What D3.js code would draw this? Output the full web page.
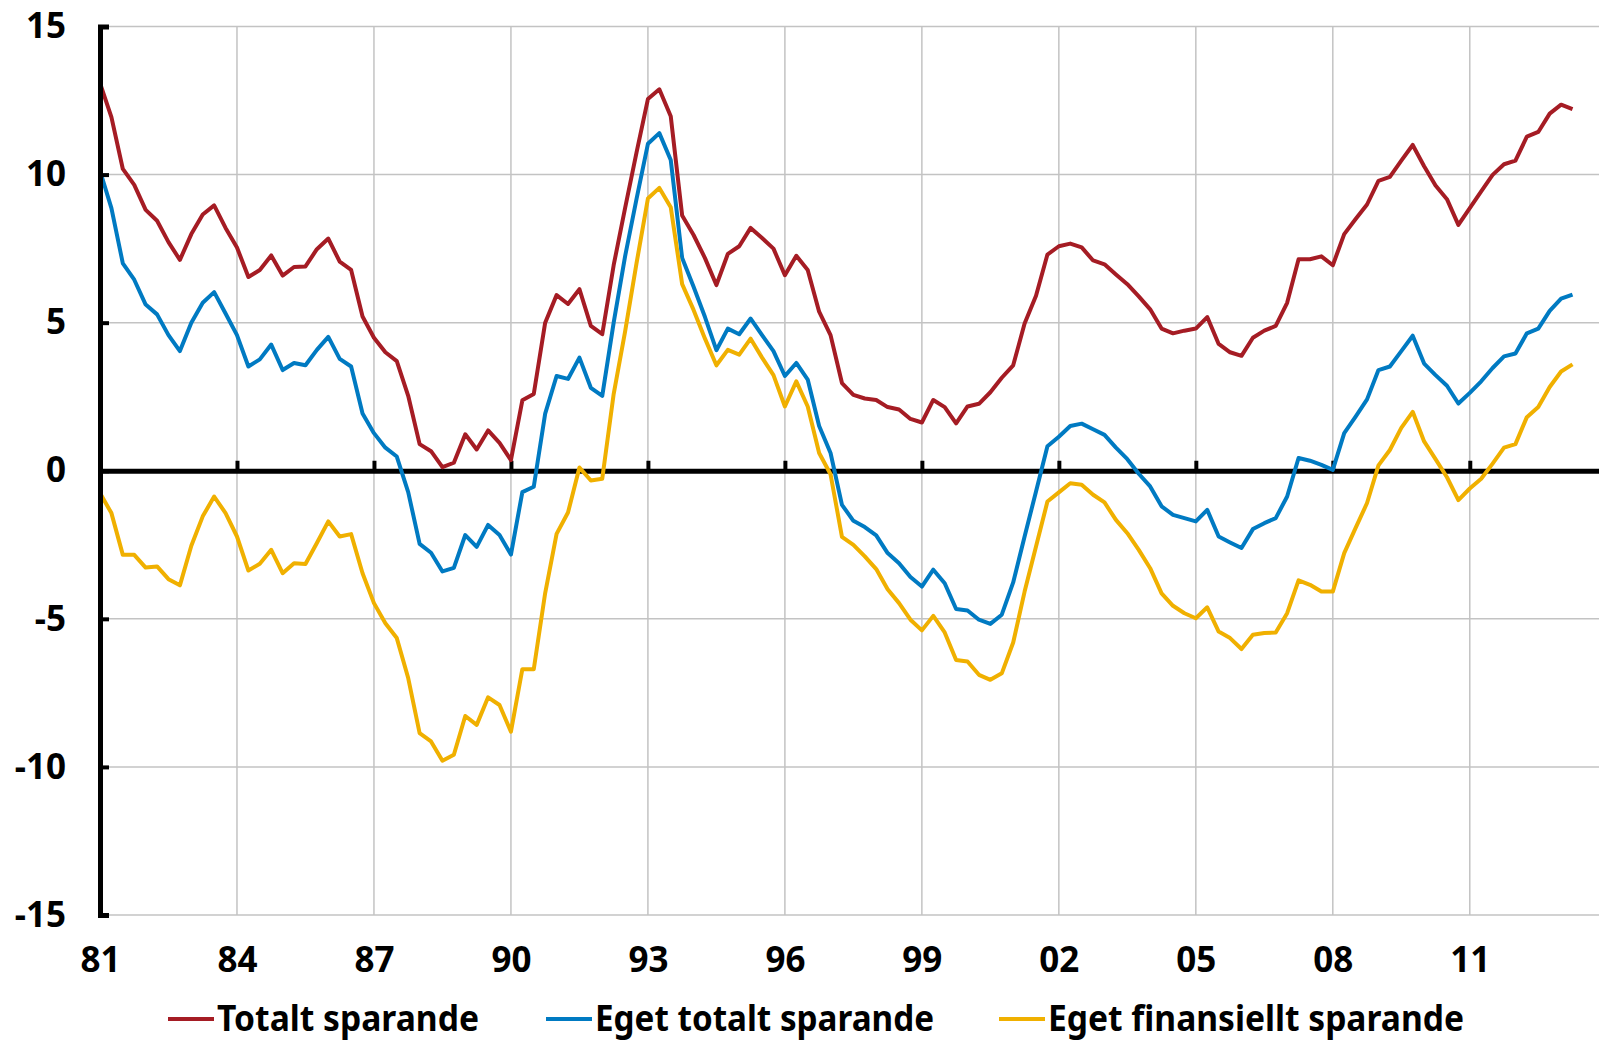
<!DOCTYPE html>
<html lang="sv">
	<head>
		<meta charset="utf-8">
		<title>Sparande</title>
		<script type="text/javascript" src="https://d3js.org/d3.v7.min.js"></script>
		<style type="text/css">
			body { margin: 0; background: #fff; }
			text { font-family: "Noto Sans", "Open Sans", sans-serif; font-weight: 700; fill: #000; }
		</style>
	</head>
	<body>
		<script type="text/javascript">

			//Quarterly data, 1981 Q1 - 2013 Q2
			var startYear = 1981;
			var totalt = [
				13.09, 11.94, 10.19, 9.65, 8.81, 8.44, 7.72, 7.12, 7.99, 8.65, 8.96, 8.20, 7.54, 6.54, 6.78, 7.27, 6.59, 6.88, 6.90, 7.48, 7.84, 7.06, 6.78,
				5.21, 4.49, 4.00, 3.70, 2.53, 0.90, 0.66, 0.12, 0.27, 1.23, 0.72, 1.36, 0.94, 0.36, 2.38, 2.59, 5.00, 5.93, 5.63, 6.13, 4.89, 4.61,
				6.94, 8.87, 10.74, 12.55, 12.88, 11.97, 8.62, 7.96, 7.18, 6.27, 7.32, 7.58, 8.20, 7.86, 7.50, 6.60, 7.26, 6.78, 5.37, 4.58, 2.96, 2.56,
				2.44, 2.39, 2.15, 2.07, 1.75, 1.63, 2.39, 2.15, 1.60, 2.17, 2.26, 2.65, 3.14, 3.56, 4.97, 5.91, 7.30, 7.58, 7.67, 7.54, 7.10, 6.97,
				6.63, 6.30, 5.89, 5.45, 4.80, 4.64, 4.73, 4.80, 5.19, 4.28, 4.00, 3.88, 4.49, 4.73, 4.89, 5.67, 7.14, 7.14, 7.24, 6.94,
				7.99, 8.50, 8.99, 9.79, 9.92, 10.47, 11.00, 10.28, 9.63, 9.17, 8.30, 8.87, 9.43, 9.99, 10.35, 10.47, 11.28, 11.44, 12.06, 12.36, 12.21
			];
			var egetTotalt = [
				10.13, 8.87, 7.00, 6.45, 5.61, 5.28, 4.58, 4.04, 5.00, 5.67, 6.03, 5.31, 4.58, 3.52, 3.76, 4.26, 3.40, 3.64, 3.56, 4.08, 4.52, 3.78, 3.52,
				1.93, 1.27, 0.78, 0.48, -0.72, -2.47, -2.77, -3.40, -3.28, -2.17, -2.57, -1.83, -2.17, -2.83, -0.72, -0.54, 1.93, 3.20, 3.10, 3.82, 2.80, 2.53,
				5.00, 7.24, 9.17, 11.04, 11.40, 10.49, 7.18, 6.21, 5.19, 4.07, 4.80, 4.61, 5.14, 4.58, 4.04, 3.20, 3.64, 3.08, 1.51, 0.60, -1.15, -1.69,
				-1.90, -2.18, -2.78, -3.12, -3.59, -3.91, -3.34, -3.80, -4.67, -4.72, -5.03, -5.17, -4.86, -3.77, -2.22, -0.70, 0.83, 1.15, 1.51, 1.59, 1.40, 1.21,
				0.78, 0.39, -0.10, -0.53, -1.20, -1.49, -1.60, -1.71, -1.32, -2.22, -2.42, -2.61, -1.97, -1.77, -1.60, -0.87, 0.43, 0.34, 0.20, 0.03,
				1.27, 1.83, 2.41, 3.40, 3.52, 4.04, 4.56, 3.62, 3.23, 2.87, 2.27, 2.63, 3.02, 3.47, 3.86, 3.96, 4.64, 4.80, 5.40, 5.81, 5.95
			];
			var egetFinansiellt = [
				-0.75, -1.43, -2.84, -2.84, -3.27, -3.23, -3.66, -3.87, -2.53, -1.54, -0.87, -1.43, -2.22, -3.37, -3.14, -2.67, -3.46, -3.12, -3.15, -2.44, -1.71, -2.22, -2.14,
				-3.46, -4.47, -5.15, -5.65, -7.00, -8.86, -9.14, -9.79, -9.59, -8.28, -8.58, -7.65, -7.91, -8.81, -6.70, -6.70, -4.13, -2.13, -1.41, 0.11, -0.33, -0.27,
				2.59, 4.70, 7.00, 9.19, 9.55, 8.90, 6.30, 5.43, 4.46, 3.56, 4.08, 3.92, 4.46, 3.82, 3.23, 2.17, 3.02, 2.17, 0.60, -0.12, -2.23, -2.50,
				-2.89, -3.32, -4.00, -4.47, -5.03, -5.39, -4.90, -5.46, -6.39, -6.44, -6.89, -7.06, -6.84, -5.80, -4.08, -2.56, -1.04, -0.73, -0.42, -0.47, -0.81, -1.07,
				-1.66, -2.11, -2.67, -3.29, -4.14, -4.56, -4.81, -4.98, -4.61, -5.43, -5.65, -6.02, -5.54, -5.48, -5.46, -4.81, -3.70, -3.85, -4.08, -4.08,
				-2.78, -1.93, -1.09, 0.18, 0.70, 1.45, 1.99, 0.99, 0.39, -0.22, -0.99, -0.60, -0.27, 0.24, 0.78, 0.90, 1.81, 2.15, 2.83, 3.35, 3.59
			];

			var seriesNames = ["Totalt sparande", "Eget totalt sparande", "Eget finansiellt sparande"];
			var seriesColors = ["#a51c24", "#007ac2", "#f0b000"];
			var xTickYears = [1981, 1984, 1987, 1990, 1993, 1996, 1999, 2002, 2005, 2008, 2011];
			var xTickLabels = ["81", "84", "87", "90", "93", "96", "99", "02", "05", "08", "11"];
			var yTicks = [-15, -10, -5, 0, 5, 10, 15];

			//Width and height
			var w = 1599;
			var h = 1040;
			var plotLeft = 100, plotRight = 1599, plotTop = 26.5, plotBottom = 915;

			//Create scale functions
			var xScale = d3.scaleLinear()
							.domain([1981, 2013.83])
							.range([plotLeft, plotRight]);

			var yScale = d3.scaleLinear()
							.domain([-15, 15])
							.range([plotBottom, plotTop]);

			//Create SVG element
			var svg = d3.select("body")
						.append("svg")
						.attr("width", w)
						.attr("height", h);

			svg.append("rect")
				.attr("width", w)
				.attr("height", h)
				.attr("fill", "#fff");

			//Gridlines
			svg.append("g")
				.selectAll("line")
				.data(yTicks.filter(function(d) { return d !== 0; }))
				.enter()
				.append("line")
				.attr("x1", plotLeft)
				.attr("x2", plotRight)
				.attr("y1", function(d) { return yScale(d); })
				.attr("y2", function(d) { return yScale(d); })
				.attr("stroke", "#c3c3c3")
				.attr("stroke-width", 1.5);

			svg.append("g")
				.selectAll("line")
				.data(xTickYears.slice(1))
				.enter()
				.append("line")
				.attr("x1", function(d) { return xScale(d); })
				.attr("x2", function(d) { return xScale(d); })
				.attr("y1", plotTop)
				.attr("y2", plotBottom)
				.attr("stroke", "#c3c3c3")
				.attr("stroke-width", 1.5);

			//Zero axis with ticks pointing up
			var zeroAxis = d3.axisBottom(xScale)
							.tickValues(xTickYears)
							.tickFormat("")
							.tickSizeInner(-10)
							.tickSizeOuter(0);

			var zg = svg.append("g")
				.attr("transform", "translate(0," + yScale(0) + ")")
				.call(zeroAxis);
			zg.select(".domain").attr("stroke", "#000").attr("stroke-width", 5);
			zg.selectAll(".tick line").attr("stroke", "#000").attr("stroke-width", 4);

			//Lines
			var line = d3.line()
						.x(function(d, i) { return xScale(startYear + i / 4); })
						.y(function(d) { return yScale(d); });

			var allSeries = [totalt, egetTotalt, egetFinansiellt];

			svg.append("g")
				.selectAll("path")
				.data(allSeries)
				.enter()
				.append("path")
				.attr("d", line)
				.attr("fill", "none")
				.attr("stroke", function(d, i) { return seriesColors[i]; })
				.attr("stroke-width", 4)
				.attr("stroke-linejoin", "round");

			//Y axis (plain hyphen for negative labels)
			var yAxis = d3.axisLeft(yScale)
							.tickValues(yTicks)
							.tickFormat(function(d) { return String(d); })
							.tickSizeInner(-9)
							.tickSizeOuter(-9)
							.tickPadding(34);

			var yg = svg.append("g")
				.attr("transform", "translate(" + plotLeft + ",0)")
				.call(yAxis);
			yg.attr("font-family", null).attr("font-size", null);
			yg.select(".domain").attr("stroke", "#000").attr("stroke-width", 5).attr("fill", "none");
			yg.selectAll(".tick line").attr("stroke", "#000").attr("stroke-width", 4);
			yg.selectAll("text")
				.attr("font-size", 35)
				.attr("fill", "#000");

			//X labels
			var xAxis = d3.axisBottom(xScale)
							.tickValues(xTickYears)
							.tickFormat(function(d, i) { return xTickLabels[i]; })
							.tickSize(0);

			var xg = svg.append("g")
				.attr("transform", "translate(0," + plotBottom + ")")
				.call(xAxis);
			xg.attr("font-family", null).attr("font-size", null);
			xg.select(".domain").remove();
			xg.selectAll("text")
				.attr("y", 57)
				.attr("dy", 0)
				.attr("font-size", 35)
				.attr("fill", "#000");

			//Legend
			var legendX = [168, 546, 999];
			var legendW = [262, 339, 416];
			var legend = svg.append("g")
				.selectAll("g")
				.data(seriesNames)
				.enter()
				.append("g")
				.attr("transform", function(d, i) { return "translate(" + legendX[i] + ",1019)"; });

			legend.append("line")
				.attr("x1", 0)
				.attr("x2", 46)
				.attr("stroke", function(d, i) { return seriesColors[i]; })
				.attr("stroke-width", 4);

			legend.append("text")
				.attr("x", 49)
				.attr("y", 12)
				.attr("font-size", 35)
				.attr("textLength", function(d, i) { return legendW[i]; })
				.attr("lengthAdjust", "spacingAndGlyphs")
				.text(function(d) { return d; });

		</script>
	</body>
</html>
